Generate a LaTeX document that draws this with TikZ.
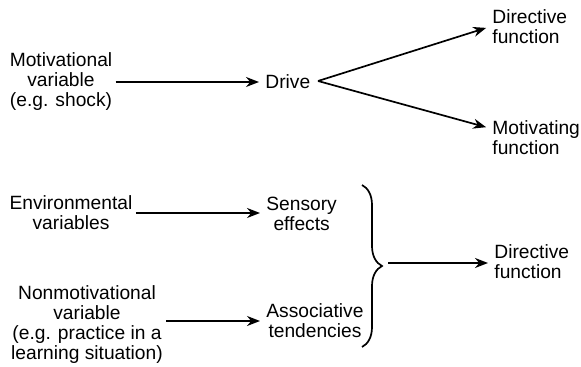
\documentclass[tikz,border=0pt]{standalone}
\usepackage{fontspec}
\setmainfont{Liberation Sans}
\usetikzlibrary{arrows.meta, positioning, decorations.pathreplacing}

\begin{document}
\begin{tikzpicture}[
  x=0.5pt, y=-0.5pt,
  every node/.style={font=\fontsize{9.6}{10}\selectfont, inner sep=1.5pt},
  lbl/.style={align=center},
  lblleft/.style={align=left, anchor=west},
  arr/.style={-{Stealth[length=6.5pt, width=5pt]}, line width=0.85pt, draw=black, shorten >=1.5pt},
  brc/.style={decorate, decoration={brace, amplitude=10pt}, line width=0.85pt}
]
\useasboundingbox (0,0) rectangle (581,367);

% upper part
\node[lbl]                (mot)   at (61,82)  {Motivational\\variable\\(e.g. shock)};
\node[anchor=west]        (drive) at (262,82) {Drive};
\node[lblleft]            (dira)  at (489,27) {Directive\\function};
\node[lblleft]            (motf)  at (489,138) {Motivating\\function};
\coordinate (fork) at (318,81);

\draw[arr] (mot.east)   -- (drive.west);
\draw[arr] (fork) -- (dira.west);
\draw[arr] (fork) -- ([yshift=5pt]motf.west);

% lower part
\node[lbl]                (env)    at (71,213)  {Environmental\\variables};
\node[lbl, anchor=west]   (sens)   at (263,214) {Sensory\\effects};
\node[lbl]                (nonmot) at (87,325)  {Nonmotivational\\variable\\(e.g. practice in a\\learning situation)};
\node[lbl, anchor=west]   (assoc)  at (263,321) {Associative\\tendencies};
\node[lblleft]            (dirb)   at (491,262) {Directive\\function};
\coordinate (brtop) at (362,185);
\coordinate (brbot) at (362,347);
\coordinate (brtip) at (382,263);

\draw[arr] (env.east)   -- (env.east -| sens.west);
\draw[arr] (nonmot.east |- assoc.west) -- (assoc.west);
\draw[brc] (brtop) -- (brbot);
\draw[arr] ([xshift=3pt]brtip) -- (brtip -| dirb.west);
\end{tikzpicture}
\end{document}
